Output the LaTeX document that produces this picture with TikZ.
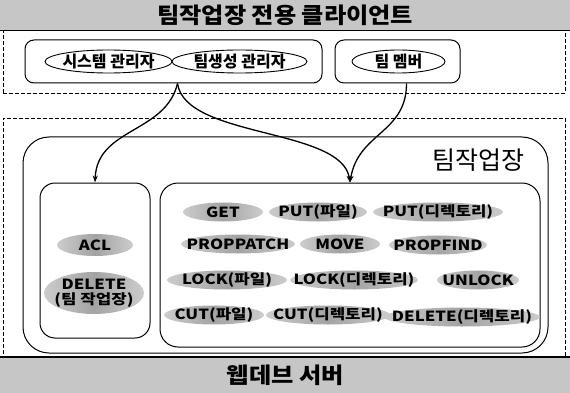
\documentclass[tikz,border=0pt]{standalone}
\usepackage{fontspec}
\setmainfont{Noto Sans CJK KR}
\newfontfamily\opfont{Noto Sans CJK KR}[FakeStretch=1.2]
\newfontfamily\wideko{Noto Sans CJK KR}[FakeStretch=1.1]
\usetikzlibrary{shapes.geometric,arrows.meta,calc}
\tikzset{
  banner/.style={fill=gray!45, inner sep=0pt, minimum width=570pt, anchor=north west,
    font=\wideko\bfseries\fontsize{22}{24}\selectfont},
  dashbox/.style={draw, dash pattern=on 4pt off 2pt, line width=0.6pt, inner sep=0pt},
  rbox/.style={draw, line width=1pt, rounded corners=#1, inner sep=0pt},
  role/.style={draw, ellipse, line width=0.9pt, fill=white, inner xsep=-30pt, inner ysep=-10pt,
    minimum height=23pt, font=\bfseries\fontsize{16}{18}\selectfont},
  op/.style={ellipse, inner xsep=-30pt, inner ysep=-10pt, minimum height=19pt,
    left color=gray!40, right color=gray!40, middle color=gray!72,
    font=\opfont\bfseries\fontsize{14}{15}\selectfont},
  arr/.style={line width=1.3pt, -{Stealth[length=7pt,width=5pt]}}
}
\begin{document}
\begin{tikzpicture}[x=1pt,y=-1pt]
\useasboundingbox (0,0) rectangle (570,393);
% client area
\node[dashbox, minimum width=562pt, minimum height=64pt] (client) at (284,61) {};
\node[banner, minimum height=30pt] (topbar) at (0,0) {팀작업장 전용 클라이언트};
\draw[line width=1.6pt] (topbar.south west) -- (topbar.south east);
\node[rbox=9pt, minimum width=297pt, minimum height=43pt] (box1) at (173.5,61.5) {};
\node[rbox=9pt, minimum width=125pt, minimum height=43pt] (box2) at (397.5,61.5) {};
\node[role, minimum width=127pt] (sys) at (108.5,61.5) {시스템 관리자};
\node[role, minimum width=135pt] (gen) at (239.5,61.5) {팀생성 관리자};
\node[role, minimum width=93pt] (mem) at (398.5,61.5) {팀 멤버};
% server area
\node[dashbox, minimum width=562pt, minimum height=240pt] (server) at (284,238) {};
\node[banner, minimum height=36pt] (botbar) at (0,357) {웹데브 서버};
\draw[line width=1.6pt] (botbar.north west) -- (botbar.north east);
\node[rbox=26pt, minimum width=525pt, minimum height=216pt] (ws) at (285.5,245) {};
\node[font=\fontsize{25}{27}\selectfont, inner sep=0pt] (wslabel) at (478,160) {팀작업장};
\node[rbox=15pt, minimum width=110pt, minimum height=155pt] (left) at (95,260.5) {};
\node[rbox=18pt, minimum width=380pt, minimum height=164pt] (right) at (350,265) {};
% left ops
\node[op, minimum width=76pt, minimum height=22pt] (acl) at (95,245) {ACL};
\node[op, minimum width=100pt, minimum height=42pt, align=center] (del) at (94,293) {DELETE\\(팀 작업장)};
% right ops
\node[op, minimum width=80pt] (get) at (223,212) {GET};
\node[op, minimum width=98pt] (putf) at (318,212) {PUT(파일)};
\node[op, minimum width=130pt] (putd) at (438,212) {PUT(디렉토리)};
\node[op, minimum width=114pt] (pp) at (238,244) {PROPPATCH};
\node[op, minimum width=80pt] (move) at (340,244) {MOVE};
\node[op, minimum width=98pt] (pf) at (438,245) {PROPFIND};
\node[op, minimum width=120pt] (lockf) at (227,280) {LOCK(파일)};
\node[op, minimum width=128pt] (lockd) at (354,280) {LOCK(디렉토리)};
\node[op, minimum width=82pt] (unlock) at (478,280) {UNLOCK};
\node[op, minimum width=100pt] (cutf) at (214,315) {CUT(파일)};
\node[op, minimum width=124pt] (cutd) at (328,315) {CUT(디렉토리)};
\node[op, minimum width=156pt] (deld) at (462,317) {DELETE(디렉토리)};
% arrows
\draw[arr] ([xshift=4pt]box1.south) .. controls +(-12,50) and +(2,-55) .. (left.north);
\draw[arr] ([xshift=4pt]box1.south) .. controls +(8,55) and +(-8,-55) .. (right.north);
\draw[arr] ([xshift=9pt]box2.south) .. controls +(0,50) and +(8,-50) .. (right.north);
\end{tikzpicture}
\end{document}
